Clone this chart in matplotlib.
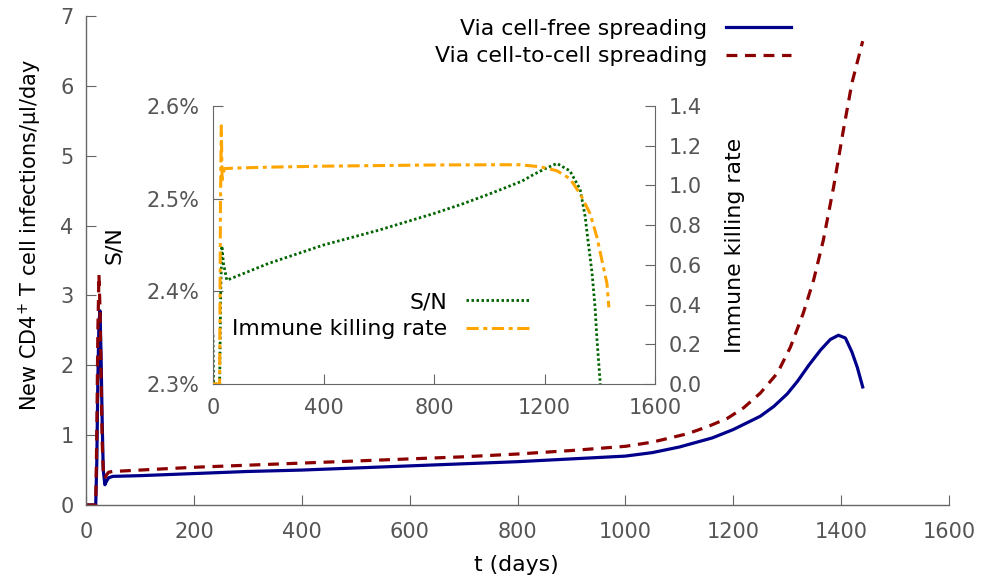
import matplotlib
matplotlib.use("Agg")
import matplotlib.pyplot as plt
from matplotlib.ticker import FuncFormatter, FixedLocator

# ---------------- data ----------------
t_free = [0, 18, 20, 22, 24, 26, 28, 30, 32, 35, 38, 42, 50, 100, 200, 300, 400, 500,
          600, 700, 800, 900, 1000, 1050, 1100, 1161, 1200, 1250, 1275, 1300, 1319, 1340,
          1362, 1380, 1395, 1408, 1420, 1430, 1440]
cell_free = [0, 0, 0.6, 1.8, 2.6, 2.78, 2.1, 1.2, 0.5, 0.29, 0.34, 0.39, 0.41, 0.42,
             0.45, 0.48, 0.50, 0.53, 0.56, 0.59, 0.62, 0.66, 0.70, 0.75, 0.83, 0.96,
             1.08, 1.27, 1.41, 1.59, 1.77, 2.00, 2.22, 2.37, 2.43, 2.39, 2.19, 1.97, 1.69]

t_c2c = [0, 18, 20, 22, 24, 26, 28, 30, 32, 35, 38, 42, 50, 100, 200, 300, 400, 500,
         600, 700, 800, 900, 1000, 1050, 1115, 1152, 1189, 1219, 1250, 1282, 1306,
         1330, 1349, 1367, 1386, 1404, 1420, 1440]
cell_to_cell = [0, 0, 1.0, 2.5, 3.3, 2.8, 1.8, 0.9, 0.5, 0.38, 0.43, 0.47, 0.48, 0.50,
                0.54, 0.57, 0.60, 0.63, 0.66, 0.69, 0.73, 0.78, 0.84, 0.90, 1.02, 1.12,
                1.24, 1.39, 1.60, 1.89, 2.26, 2.75, 3.22, 3.79, 4.55, 5.36, 6.04, 6.64]

t_sn = [0, 2, 24, 28, 32, 38, 50, 100, 200, 400, 600, 800, 900, 1000, 1060, 1119,
        1160, 1200, 1245, 1292, 1329, 1347, 1357, 1372, 1383, 1390, 1401, 1404]
sn_pct = [2.353, 2.30, 2.30, 2.40, 2.449, 2.43, 2.412, 2.418, 2.430, 2.450, 2.466,
          2.484, 2.494, 2.505, 2.512, 2.519, 2.526, 2.532, 2.538, 2.530, 2.510, 2.481,
          2.456, 2.420, 2.383, 2.348, 2.304, 2.29]

t_kill = [0, 24, 27, 30, 33, 36, 42, 100, 200, 400, 600, 800, 1000, 1111, 1184, 1245,
          1292, 1329, 1365, 1390, 1408, 1426, 1433]
kill_rate = [0, 0, 0.9, 1.30, 1.02, 1.06, 1.085, 1.088, 1.092, 1.097, 1.100, 1.103,
             1.104, 1.104, 1.094, 1.074, 1.034, 0.958, 0.858, 0.738, 0.622, 0.507, 0.386]

main_xticks = [0, 200, 400, 600, 800, 1000, 1200, 1400, 1600]
main_yticks = [0, 1, 2, 3, 4, 5, 6, 7]
inset_xticks = [0, 400, 800, 1200, 1600]
inset_lticks = [2.3, 2.4, 2.5, 2.6]
inset_rticks = [0.0, 0.2, 0.4, 0.6, 0.8, 1.0, 1.2, 1.4]

# ---------------- style ----------------
plt.rcParams['font.family'] = ['DejaVu Sans']
W, H = 981, 580
TICKC = '#555555'
SPINEC = '#666666'
FS = 15
LFS = 15.8

fig = plt.figure(figsize=(W / 100, H / 100), dpi=100)

def fx(px):
    return px / W

def fy(py):
    return (H - py) / H

# ---------------- main axes ----------------
ax = fig.add_axes([fx(86), fy(505), fx(949) - fx(86), fy(16) - fy(505)])
l1, = ax.plot(t_free, cell_free, color='#00008B', lw=2.3, label='Via cell-free spreading',
              solid_joinstyle='round')
l2, = ax.plot(t_c2c, cell_to_cell, color='#8B0000', lw=2.3, dashes=(3.4, 2.4),
              label='Via cell-to-cell spreading')
ax.set_xlim(0, 1600)
ax.set_ylim(0, 7)
ax.set_xticks(main_xticks)
ax.set_yticks(main_yticks)
for s in ['top', 'right']:
    ax.spines[s].set_visible(False)
for s in ['left', 'bottom']:
    ax.spines[s].set_color(SPINEC)
    ax.spines[s].set_linewidth(1.0)
ax.tick_params(direction='in', length=7, width=0.8, color=SPINEC, labelsize=FS,
               labelcolor=TICKC, pad=9)
ax.tick_params(axis='x', pad=12)

fig.text(fx(30), fy(235), 'New CD4$^{+}$ T cell infections/μl/day', rotation=90,
         ha='center', va='center', fontsize=FS)
fig.text(fx(516), fy(565), 't (days)', ha='center', va='center', fontsize=LFS)

leg1 = ax.legend(handles=[l1, l2], loc='upper right',
                 bbox_to_anchor=(fx(791), fy(19)), bbox_transform=fig.transFigure,
                 markerfirst=False, frameon=False, fontsize=LFS, handlelength=2.95,
                 handletextpad=0.85, borderpad=0, borderaxespad=0, labelspacing=0.33)

# ---------------- inset ----------------
axi = fig.add_axes([fx(213), fy(384), fx(655) - fx(213), fy(106) - fy(384)])
axi.set_facecolor('none')
l3, = axi.plot(t_sn, sn_pct, color='#006400', lw=2.0, dashes=(0.9, 0.9),
               dash_capstyle='butt', label='S/N')
axi.set_xlim(0, 1600)
axi.set_ylim(2.3, 2.6)
axi.xaxis.set_major_locator(FixedLocator(inset_xticks))
axi.yaxis.set_major_locator(FixedLocator(inset_lticks))
axi.yaxis.set_major_formatter(FuncFormatter(lambda v, p: f'{v:.1f}%'))
axi.spines['top'].set_visible(False)
axi.spines['right'].set_visible(False)
for s in ['left', 'bottom']:
    axi.spines[s].set_color(SPINEC)
axi.tick_params(direction='in', length=7, width=0.8, color=SPINEC, labelsize=FS,
                labelcolor=TICKC, pad=10)

axr = axi.twinx()
axr.set_facecolor('none')
l4, = axr.plot(t_kill, kill_rate, color='#FFA500', lw=2.2, dashes=(4, 1.5, 1.3, 1.5),
               label='Immune killing rate')
axr.set_ylim(0, 1.4)
axr.yaxis.set_major_locator(FixedLocator(inset_rticks))
axr.yaxis.set_major_formatter(FuncFormatter(lambda v, p: f'{v:.1f}'))
for s in ['top', 'left', 'bottom']:
    axr.spines[s].set_visible(False)
axr.spines['right'].set_color(SPINEC)
axr.tick_params(direction='in', length=7, width=0.8, color=SPINEC, labelsize=FS,
                labelcolor=TICKC, pad=10)

fig.text(fx(114), fy(245), 'S/N', rotation=90, ha='center', va='center', fontsize=LFS)
fig.text(fx(735), fy(245), 'Immune killing rate', rotation=90, ha='center',
         va='center', fontsize=LFS)

leg2 = axr.legend(handles=[l3, l4], loc='upper right',
                  bbox_to_anchor=(fx(531), fy(292)), bbox_transform=fig.transFigure,
                  markerfirst=False, frameon=False, fontsize=LFS, handlelength=2.95,
                  handletextpad=0.85, borderpad=0, borderaxespad=0, labelspacing=0.33)

fig.savefig('out.png', dpi=100)
